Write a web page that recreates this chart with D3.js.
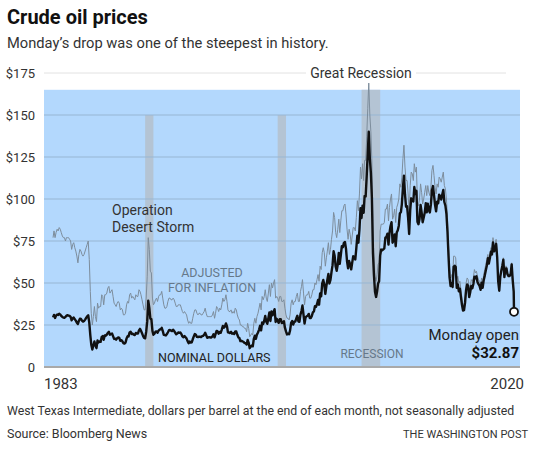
<!DOCTYPE html>
<html>
<head>
<meta charset="utf-8">
<script src="https://cdn.jsdelivr.net/npm/d3@7"></script>
<style>
  body { margin: 0; background: #fff; }
  svg text { font-family: Roboto, "Liberation Sans", sans-serif; }
</style>
</head>
<body>
<script>
// West Texas Intermediate, end of month, from January 1983 through February 2020
var startYear = 1983
var nominal = [
  29.5, 31.0, 29.2, 30.6, 31.2, 31.0, 31.7, 31.2, 30.4, 29.8, 29.4, 29.3, // 1983
  29.8, 30.6, 30.8, 30.6, 30.4, 29.8, 27.8, 29.0, 29.4, 28.4, 27.6, 26.4, // 1984
  25.6, 27.4, 28.8, 28.6, 27.6, 27.0, 27.4, 28.2, 29.2, 30.2, 30.8, 26.4, // 1985
  18.8, 13.3, 10.4, 12.8, 15.2, 12.8, 11.2, 15.8, 14.6, 15.2, 15.0, 17.9, // 1986
  18.4, 16.2, 18.8, 18.6, 19.3, 20.3, 20.9, 19.2, 19.6, 19.9, 18.4, 16.7, // 1987
  16.9, 16.3, 17.1, 17.6, 17.3, 15.6, 16.0, 15.3, 14.2, 13.9, 14.5, 16.9, // 1988
  18.3, 18.2, 20.6, 21.0, 19.6, 19.8, 19.3, 19.0, 20.3, 19.9, 19.9, 21.8, // 1989
  22.7, 21.6, 20.1, 18.5, 17.3, 17.1, 20.9, 27.3, 39.5, 35.2, 28.9, 28.4, // 1990
  21.5, 19.2, 19.8, 21.0, 21.2, 20.4, 21.7, 22.3, 22.4, 23.3, 21.5, 19.1, // 1991
  19.0, 18.8, 19.6, 20.7, 21.9, 22.0, 21.7, 21.4, 22.2, 21.4, 20.4, 19.5, // 1992
  19.9, 20.6, 20.3, 20.5, 19.6, 18.2, 17.7, 18.4, 17.7, 16.9, 15.4, 14.2, // 1993
  15.2, 14.5, 14.7, 16.5, 18.2, 19.6, 19.2, 17.9, 17.8, 18.1, 18.0, 17.8, // 1994
  18.4, 18.5, 19.2, 20.4, 18.9, 17.4, 17.6, 17.8, 17.6, 17.6, 18.2, 19.5, // 1995
  17.7, 19.5, 21.5, 21.2, 19.8, 20.9, 20.4, 22.3, 24.4, 23.4, 24.0, 25.9, // 1996
  24.2, 20.6, 20.5, 20.2, 20.9, 19.8, 20.1, 19.6, 21.2, 21.1, 19.2, 17.6, // 1997
  17.2, 15.4, 15.6, 15.2, 15.0, 14.2, 14.2, 13.4, 16.1, 14.4, 11.2, 12.1, // 1998
  12.8, 12.3, 16.8, 18.6, 16.8, 19.3, 20.5, 22.1, 24.5, 21.8, 26.5, 25.6, // 1999
  27.6, 30.4, 26.9, 25.7, 29.0, 32.5, 27.4, 33.1, 30.8, 32.7, 34.4, 26.8, // 2000
  28.7, 27.4, 26.3, 28.5, 28.4, 26.2, 26.4, 27.2, 23.4, 21.2, 19.4, 19.8, // 2001
  19.5, 21.7, 26.3, 27.3, 25.3, 26.9, 27.0, 28.9, 30.5, 27.2, 26.9, 31.2, // 2002
  33.5, 36.6, 31.0, 25.8, 29.6, 30.2, 30.5, 31.6, 29.2, 29.1, 30.4, 32.5, // 2003
  33.1, 36.2, 35.8, 37.4, 39.9, 37.1, 43.8, 42.1, 49.6, 51.8, 49.1, 43.5, // 2004
  48.2, 51.8, 55.4, 49.7, 51.9, 56.5, 60.6, 68.9, 66.2, 59.8, 57.3, 61.0, // 2005
  67.9, 61.4, 66.6, 71.9, 71.3, 73.9, 74.4, 70.3, 62.9, 58.7, 63.1, 61.1, // 2006
  58.1, 62.0, 65.9, 65.7, 64.0, 70.7, 78.2, 74.0, 81.7, 94.5, 88.7, 96.0, // 2007
  91.8, 101.8, 101.6, 113.5, 127.4, 140.0, 124.1, 115.5, 100.6, 67.8, 54.4, 44.6, // 2008
  41.7, 44.8, 49.7, 51.1, 66.3, 69.9, 69.5, 70.0, 70.6, 77.0, 77.3, 79.4, // 2009
  72.9, 79.7, 83.8, 86.2, 74.0, 75.6, 78.9, 71.9, 80.0, 81.4, 84.1, 91.4, // 2010
  92.2, 97.0, 106.7, 113.9, 102.7, 95.4, 95.7, 88.8, 79.2, 93.2, 100.4, 98.8, // 2011
  98.5, 107.1, 103.0, 104.9, 86.5, 85.0, 88.1, 96.5, 92.2, 86.2, 88.9, 91.8, // 2012
  97.5, 92.1, 97.2, 93.5, 92.0, 96.6, 105.0, 107.7, 102.3, 96.4, 92.7, 98.4, // 2013
  97.5, 102.6, 101.6, 99.7, 102.7, 105.4, 98.2, 96.0, 91.2, 80.5, 66.2, 53.3, // 2014
  48.2, 49.8, 47.6, 59.6, 60.3, 59.5, 47.1, 49.2, 45.1, 46.6, 41.7, 37.0, // 2015
  33.6, 33.8, 38.3, 45.9, 49.1, 48.3, 41.6, 44.7, 48.2, 46.9, 49.4, 53.7, // 2016
  52.8, 54.0, 50.6, 49.3, 48.3, 46.0, 50.2, 47.2, 51.7, 54.4, 57.4, 60.4, // 2017
  64.7, 61.6, 64.9, 68.6, 67.0, 74.2, 68.8, 69.8, 73.3, 65.3, 50.9, 45.4, // 2018
  53.8, 57.2, 60.1, 63.9, 53.5, 58.5, 58.6, 55.1, 54.1, 54.2, 55.2, 61.1, // 2019
  51.6, 44.8                                                             // 2020
]
// Same months in 2020 dollars
var adjusted = [
  77, 81, 77, 80, 82, 81, 83, 82, 80, 78, 77, 77,   // 1983
  75, 77, 77, 77, 76, 75, 70, 73, 74, 71, 69, 66,   // 1984
  62, 67, 70, 69, 67, 66, 67, 69, 71, 73, 75, 64,   // 1985
  45, 32, 25, 30, 36, 30, 27, 38, 35, 36, 36, 43,   // 1986
  42, 37, 43, 43, 44, 47, 48, 44, 45, 46, 42, 38,   // 1987
  37, 36, 38, 39, 38, 34, 35, 34, 31, 31, 32, 37,   // 1988
  39, 38, 43, 44, 41, 42, 41, 40, 43, 42, 42, 46,   // 1989
  45, 43, 40, 37, 34, 34, 41, 54, 77, 70, 57, 56,   // 1990
  41, 37, 38, 40, 41, 39, 42, 43, 43, 45, 41, 37,   // 1991
  35, 35, 36, 39, 41, 41, 40, 40, 41, 40, 38, 36,   // 1992
  36, 37, 37, 37, 35, 33, 32, 33, 32, 31, 28, 26,   // 1993
  27, 26, 26, 29, 32, 34, 34, 32, 31, 32, 32, 31,   // 1994
  31, 32, 33, 35, 32, 30, 30, 30, 30, 30, 31, 33,   // 1995
  29, 32, 36, 35, 33, 35, 34, 37, 41, 39, 40, 43,   // 1996
  39, 34, 33, 33, 34, 32, 33, 32, 35, 34, 31, 29,   // 1997
  28, 25, 25, 24, 24, 23, 23, 21, 26, 23, 18, 19,   // 1998
  20, 19, 26, 29, 26, 30, 32, 35, 38, 34, 42, 40,   // 1999
  42, 46, 41, 39, 44, 49, 42, 50, 47, 50, 52, 41,   // 2000
  42, 41, 39, 42, 42, 39, 39, 40, 35, 31, 29, 29,   // 2001
  28, 31, 38, 40, 37, 39, 39, 42, 44, 39, 39, 45,   // 2002
  48, 52, 44, 37, 42, 43, 43, 45, 41, 41, 43, 46,   // 2003
  46, 50, 49, 52, 55, 51, 60, 58, 68, 71, 68, 60,   // 2004
  65, 69, 74, 67, 70, 76, 81, 92, 89, 80, 77, 82,   // 2005
  88, 80, 87, 93, 93, 96, 97, 91, 82, 76, 82, 79,   // 2006
  73, 78, 83, 83, 81, 89, 99, 93, 103, 119, 112, 121, // 2007
  111, 123, 123, 137, 154, 169, 150, 140, 122, 82, 66, 54, // 2008
  51, 55, 61, 62, 81, 85, 85, 85, 86, 94, 94, 97,   // 2009
  87, 95, 100, 103, 88, 90, 94, 86, 95, 97, 100, 109, // 2010
  107, 113, 124, 132, 119, 111, 111, 103, 92, 108, 116, 115, // 2011
  111, 121, 116, 119, 98, 96, 100, 109, 104, 97, 100, 104, // 2012
  108, 102, 108, 104, 102, 107, 117, 120, 114, 107, 103, 109, // 2013
  107, 113, 112, 110, 113, 116, 108, 106, 100, 89, 73, 59, // 2014
  53, 55, 52, 66, 66, 65, 52, 54, 50, 51, 46, 41,   // 2015
  36, 37, 41, 50, 53, 52, 45, 48, 52, 51, 53, 58,   // 2016
  56, 57, 54, 52, 51, 49, 53, 50, 55, 58, 61, 64,   // 2017
  67, 64, 67, 71, 70, 77, 72, 73, 76, 68, 53, 47,   // 2018
  55, 58, 61, 65, 55, 60, 60, 56, 55, 55, 56, 62,   // 2019
  52, 45                                            // 2020
]
// Monday, March 9, 2020
var openDate  = '2020-03-09'
var openPrice = 32.87
var openAdjusted = 32.87

var recessions = [
  ['1990-07-01', '1991-03-01', 150],
  ['2001-03-01', '2001-11-01', 150],
  ['2007-12-01', '2009-06-01', 165]
]
var yTicks = [0, 25, 50, 75, 100, 125, 150, 175]

// Global variables
var width  = 537
var height = 450
var left   = 44
var right  = 520
var bottom = 367
var top175 = 73

var parse = d3.timeParse('%Y-%m-%d')
// end of month i
var monthDate = function(i){ return new Date(startYear, i + 1, 0) }

var nomData = nominal.map((v, i) => ({date: monthDate(i), value: v}))
nomData.push({date: parse(openDate), value: openPrice})
var adjData = adjusted.map((v, i) => ({date: monthDate(i), value: v}))
adjData.push({date: parse(openDate), value: openAdjusted})

var x = d3.scaleTime()
          .domain([new Date(1982, 4, 10), new Date(2020, 8, 1)])
          .range([left, right])
var y = d3.scaleLinear()
          .domain([0, 175])
          .range([bottom, top175])

let svg = d3.select('body')
            .append('svg')
            .attr('width',  width)
            .attr('height', height)

// Title block
svg.append('text').attr('x', 7).attr('y', 24)
   .attr('font-size', 20).attr('font-weight', 700).attr('fill', '#111')
   .text('Crude oil prices')
svg.append('text').attr('x', 7).attr('y', 48)
   .attr('font-size', 14.7).attr('fill', '#333')
   .text('Monday\u2019s drop was one of the steepest in history.')

// Blue panel
svg.append('rect')
   .attr('x', left).attr('y', y(165))
   .attr('width', right - left).attr('height', bottom - y(165))
   .attr('fill', '#b3d8fd')

// Recession bands
svg.append('g')
   .selectAll('rect')
   .data(recessions)
   .enter()
   .append('rect')
   .attr('x', d => x(parse(d[0])))
   .attr('y', d => y(d[2]))
   .attr('width', d => x(parse(d[1])) - x(parse(d[0])))
   .attr('height', d => bottom - y(d[2]))
   .attr('fill', '#b4c4d4')

// Gridlines inside panel
svg.append('g')
   .selectAll('line')
   .data(yTicks.filter(t => t > 0 && t < 175))
   .enter()
   .append('line')
   .attr('x1', left).attr('x2', right)
   .attr('y1', d => y(d)).attr('y2', d => y(d))
   .attr('stroke', '#97b6d3').attr('stroke-width', 1)

// $175 line above the panel
svg.append('line')
   .attr('x1', left).attr('x2', 506)
   .attr('y1', y(175)).attr('y2', y(175))
   .attr('stroke', '#e2e2e2').attr('stroke-width', 1)
svg.append('rect')
   .attr('x', 306).attr('y', y(175) - 8).attr('width', 110).attr('height', 16)
   .attr('fill', '#fff')
svg.append('text').attr('x', 361).attr('y', y(175) + 5)
   .attr('text-anchor', 'middle').attr('font-size', 14).attr('fill', '#333')
   .text('Great Recession')

// Baseline
svg.append('line')
   .attr('x1', left).attr('x2', right)
   .attr('y1', bottom).attr('y2', bottom)
   .attr('stroke', '#a9a9a9').attr('stroke-width', 2)

// Y labels
svg.append('g')
   .selectAll('text')
   .data(yTicks)
   .enter()
   .append('text')
   .attr('x', 35)
   .attr('y', d => y(d) + 5)
   .attr('text-anchor', 'end')
   .attr('font-size', 13)
   .attr('fill', '#333')
   .text(d => d === 0 ? '0' : '$' + d)

// Lines
var line = d3.line()
             .x(d => x(d.date))
             .y(d => y(d.value))
svg.append('path')
   .datum(adjData)
   .attr('d', line)
   .attr('fill', 'none')
   .attr('stroke', '#7d8d9c')
   .attr('stroke-width', 1)
svg.append('path')
   .datum(nomData)
   .attr('d', line)
   .attr('fill', 'none')
   .attr('stroke', '#111')
   .attr('stroke-width', 2.4)
   .attr('stroke-linejoin', 'round')

// End marker
svg.append('circle')
   .attr('cx', x(parse(openDate))).attr('cy', y(openPrice))
   .attr('r', 4).attr('fill', '#fff')
   .attr('stroke', '#111').attr('stroke-width', 1.8)

// Annotations
var note = function(tx, ty, str, opts){
    var t = svg.append('text').attr('x', tx).attr('y', ty).text(str)
               .attr('font-size', opts.size || 14)
               .attr('fill', opts.fill || '#333')
               .attr('text-anchor', opts.anchor || 'start')
    if (opts.weight) t.attr('font-weight', opts.weight)
    return t
}
note(112, 215, 'Operation', {})
note(112, 232, 'Desert Storm', {})
note(212, 277, 'ADJUSTED', {size: 12.5, fill: '#66788a', anchor: 'middle'})
note(212, 292, 'FOR INFLATION', {size: 12.5, fill: '#66788a', anchor: 'middle'})
note(158, 362, 'NOMINAL DOLLARS', {size: 12.5, fill: '#222'})
note(372, 358, 'RECESSION', {size: 12, fill: '#66788a', anchor: 'middle'})
note(519, 340, 'Monday open', {size: 15, fill: '#222', anchor: 'end'})
note(519, 358, '$' + openPrice.toFixed(2), {size: 15, fill: '#111', anchor: 'end', weight: 700})

// X labels
note(left, 389, '1983', {size: 15, fill: '#333'})
note(524, 389, '2020', {size: 15, fill: '#333', anchor: 'end'})

// Footer
note(7, 415, 'West Texas Intermediate, dollars per barrel at the end of each month, not seasonally adjusted', {size: 12.3, fill: '#333'})
note(7, 438, 'Source: Bloomberg News', {size: 12.5, fill: '#333'})
note(528, 438, 'THE WASHINGTON POST', {size: 11, fill: '#333', anchor: 'end'})
</script>
</body>
</html>
